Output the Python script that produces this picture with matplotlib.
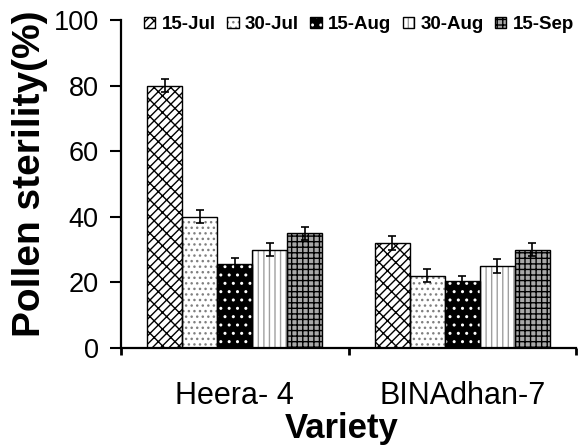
import numpy as np
import matplotlib
matplotlib.use("Agg")
import matplotlib.pyplot as plt

plt.rcParams['font.family'] = ['Liberation Sans', 'DejaVu Sans']

# data
varieties = ["Heera- 4", "BINAdhan-7"]
dates = ["15-Jul", "30-Jul", "15-Aug", "30-Aug", "15-Sep"]
heera = [80, 40, 25.5, 30, 35]
binadhan = [32, 22, 20.5, 25, 30]
heera_err = [2, 2, 2, 2, 2]
binadhan_err = [2, 2, 1.5, 2, 2]

# fill style per sowing date: face colour, hatch, hatch colour
faces = ["white", "white", "black", "white", "#a8a8a8"]
hatches = ["////\\\\", "...", "..", "|||", "+++"]
hatch_cols = ["black", "#808080", "white", "#a0a0a0", "black"]

values = np.array([heera, binadhan]).T
errors = np.array([heera_err, binadhan_err]).T

fig = plt.figure(figsize=(5.82, 4.47), dpi=100)
ax = fig.add_axes([121 / 582, 99 / 447, 455 / 582, 328 / 447])

x = np.arange(len(varieties))
w = 0.154
handles = []
for i, d in enumerate(dates):
    pos = x + (i - 2) * w
    b1 = ax.bar(pos, values[i], w, color=faces[i], hatch=hatches[i],
                edgecolor=hatch_cols[i], linewidth=0, zorder=2)
    b2 = ax.bar(pos, values[i], w, fill=False, edgecolor="black",
                linewidth=1.0, zorder=3)
    ax.errorbar(pos, values[i], yerr=errors[i], fmt="none", ecolor="black",
                elinewidth=1.2, capsize=3, capthick=1.2, zorder=4)
    handles.append((b1, b2))

ax.set_xlim(-0.5, 1.5)
ax.set_ylim(0, 100)
ax.set_yticks([0, 20, 40, 60, 80, 100])
ax.tick_params(axis="y", labelsize=19.5, length=8, width=1.5, pad=8,
               direction="out")

# boundary ticks without labels, category names on minor ticks
ax.set_xticks([-0.5, 0.5, 1.5])
ax.set_xticklabels([])
ax.tick_params(axis="x", which="major", length=5, width=2, direction="out")
ax.set_xticks(x, varieties, minor=True)
ax.tick_params(axis="x", which="minor", length=0, labelsize=22, pad=24)

for s in ["top", "right"]:
    ax.spines[s].set_visible(False)
for s in ["left", "bottom"]:
    ax.spines[s].set_linewidth(1.6)

ax.set_ylabel("Pollen sterility(%)", fontsize=28, fontweight="bold")
ax.yaxis.set_label_coords(-0.16, 0.532)
ax.set_xlabel("Variety", fontsize=25, fontweight="bold")
ax.xaxis.set_label_coords(0.486, -0.196)

fig.legend(handles, dates, loc="center", bbox_to_anchor=(0.617, 0.945),
           ncol=5, frameon=False, prop={"size": 13.5, "weight": "bold"},
           handlelength=0.6, handleheight=0.6, handletextpad=0.35,
           columnspacing=0.6, borderpad=0)

fig.savefig("out.png", dpi=100)
